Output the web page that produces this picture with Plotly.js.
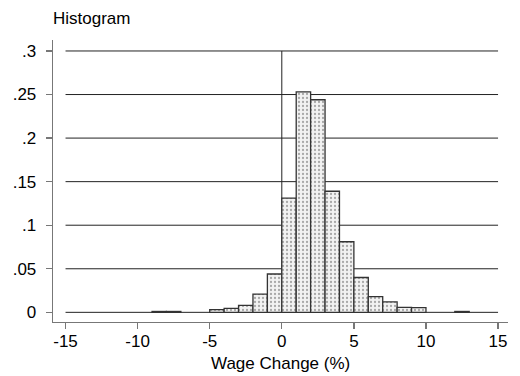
<!DOCTYPE html>
<html>
<head>
<meta charset="utf-8">
<script src="https://cdn.plot.ly/plotly-3.0.1.min.js"></script>
<style>html,body{margin:0;padding:0;background:#fff;}#chart{width:520px;height:376px;}</style>
</head>
<body>
<div id="chart"></div>
<script>
// Bin left edges (width 1) and densities
const binStart = [-9, -8, -5, -4, -3, -2, -1, 0, 1, 2, 3, 4, 5, 6, 7, 8, 9, 12];
const density  = [0.001, 0.001, 0.003, 0.0045, 0.008, 0.021, 0.044, 0.131, 0.253, 0.244, 0.139, 0.081, 0.040, 0.018, 0.012, 0.0057, 0.0053, 0.001];
const meanValue = 2.42;
const yTickVals = [0, 0.05, 0.1, 0.15, 0.2, 0.25, 0.3];
const yTickText = ['0', '.05', '.1', '.15', '.2', '.25', '.3'];
const xTickVals = [-15, -10, -5, 0, 5, 10, 15];
const xTitle = 'Wage Change (%)';

const binCenter = binStart.map(b => b + 0.5);

const bars = {
  type: 'bar',
  x: binCenter,
  y: density,
  width: 1,
  marker: {
    color: '#eeeeee',
    line: {color: '#333333', width: 1.3},
    pattern: {shape: '.', bgcolor: '#f2f2f2', fgcolor: '#a8a8a8', size: 4, solidity: 0.25}
  },
  hoverinfo: 'skip',
  showlegend: false
};

const meanMarker = {
  type: 'scatter',
  mode: 'markers',
  x: [meanValue],
  y: [-0.0255],
  marker: {symbol: 'triangle-up-open', size: 9, color: '#888888', line: {width: 1}},
  cliponaxis: false,
  showlegend: false,
  hoverinfo: 'skip'
};

const shapes = yTickVals.map(v => ({
  type: 'line', xref: 'x', yref: 'y', x0: -15, x1: 15, y0: v, y1: v,
  line: {color: '#222222', width: 1}, layer: 'below'
}));
shapes.push({type: 'line', xref: 'x', yref: 'y', x0: 0, x1: 0, y0: 0, y1: 0.3,
  line: {color: '#222222', width: 1}, layer: 'below'});

const fam = 'Liberation Sans, Arial, sans-serif';

const layout = {
  width: 520, height: 376,
  margin: {l: 53, r: 12, t: 40, b: 54},
  paper_bgcolor: '#fff', plot_bgcolor: '#fff',
  font: {family: fam, size: 17, color: '#000'},
  title: {text: 'Histogram', xref: 'paper', x: 0, xanchor: 'left', yref: 'container', y: 0.952, yanchor: 'middle', font: {family: fam, size: 17, color: '#000'}},
  bargap: 0,
  xaxis: {
    range: [-15.87, 15.69], tickvals: xTickVals, ticktext: xTickVals.map(String),
    showgrid: false, zeroline: false, showline: true, linecolor: '#777', linewidth: 1.3,
    ticks: 'outside', ticklen: 6, tickcolor: '#777', tickwidth: 1.3,
    ticklabelstandoff: -3,
    tickfont: {family: fam, size: 17, color: '#000'}
  },
  yaxis: {
    range: [-0.0111, 0.3126], tickvals: yTickVals, ticktext: yTickText,
    showgrid: false, zeroline: false, showline: true, linecolor: '#777', linewidth: 1.3,
    ticks: 'outside', ticklen: 6, tickcolor: '#777', tickwidth: 1.3,
    ticklabelstandoff: 6,
    tickfont: {family: fam, size: 17, color: '#000'}
  },
  annotations: [{
    text: xTitle, xref: 'paper', yref: 'paper', x: 0.5, y: 0, xanchor: 'center', yanchor: 'middle',
    yshift: -41, showarrow: false, font: {family: fam, size: 17, color: '#000'}
  }],
  shapes: shapes
};

Plotly.newPlot('chart', [bars, meanMarker], layout, {staticPlot: true, displayModeBar: false});
</script>
</body>
</html>
